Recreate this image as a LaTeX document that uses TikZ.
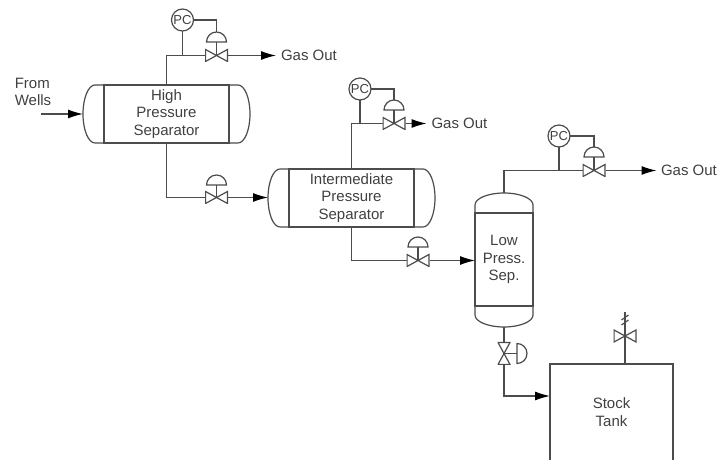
\documentclass[tikz,border=0pt]{standalone}
\usepackage{xcolor}
\usepackage{fontspec}
\setmainfont{Liberation Sans}
\usetikzlibrary{shapes.geometric, arrows.meta, positioning, calc}

\begin{document}
\begin{tikzpicture}[
  x=1pt, y=1pt,
  every node/.style={font=\fontsize{15}{17.5}\selectfont, text=black!75, inner sep=0pt, outer sep=0pt},
  vessel/.style={draw=black!70, line width=1.2pt},
  pipe/.style={draw=black!70, line width=1.2pt},
  flow/.style={pipe, -{Latex[length=15pt, width=9pt, color=black]}},
  sep/.style={rectangle, vessel, minimum width=125pt, minimum height=58pt, align=center},
  vsep/.style={rectangle, vessel, minimum width=58pt, minimum height=93pt, align=center},
  tank/.style={rectangle, minimum width=123pt, minimum height=96pt, align=center},
  pc/.style={circle, vessel, minimum size=22pt, font=\fontsize{13}{13}\selectfont},
  dome/.style={semicircle, vessel, minimum size=10pt},
  valve/.style={rectangle, minimum width=23pt, minimum height=13pt, path picture={
    \draw[pipe] (path picture bounding box.center) -- +(-11,6) -- +(-11,-6) -- cycle
      (path picture bounding box.center) -- +(11,6) -- +(11,-6) -- cycle;}},
  vvalve/.style={rectangle, minimum width=13pt, minimum height=23pt, path picture={
    \draw[pipe] (path picture bounding box.center) -- +(-6,11) -- +(6,11) -- cycle
      (path picture bounding box.center) -- +(-6,-11) -- +(6,-11) -- cycle;}},
  lbl/.style={align=left}
]
\useasboundingbox (0,0) rectangle (717,460);

% vessels
\node[sep] (hpsep) at (166.5,346) {High\\Pressure\\Separator};
\node[sep] (ipsep) at (351.5,262) {Intermediate\\Pressure\\Separator};
\node[vsep] (lpsep) at (504,200.5) {Low\\Press.\\Sep.};
\node[tank] (stock) at (611.5,48) {Stock\\Tank};

\draw[vessel] (hpsep.north west) -- ++(-9,0) arc[start angle=90, end angle=270, x radius=12pt, y radius=29pt] -- (hpsep.south west);
\draw[vessel] (hpsep.north east) -- ++(9,0) arc[start angle=90, end angle=-90, x radius=12pt, y radius=29pt] -- (hpsep.south east);
\draw[vessel] (ipsep.north west) -- ++(-9,0) arc[start angle=90, end angle=270, x radius=12pt, y radius=29pt] -- (ipsep.south west);
\draw[vessel] (ipsep.north east) -- ++(9,0) arc[start angle=90, end angle=-90, x radius=12pt, y radius=29pt] -- (ipsep.south east);
\draw[vessel] (lpsep.north west) -- ++(0,8) arc[start angle=180, end angle=0, x radius=29pt, y radius=12pt] -- (lpsep.north east);
\draw[vessel] (lpsep.south west) -- ++(0,-9) arc[start angle=180, end angle=360, x radius=29pt, y radius=12pt] -- (lpsep.south east);
\draw[vessel] (stock.south west) -- (stock.north west) -- (stock.north east) -- (stock.south east);

% valves
\node[valve, above=23pt of hpsep.north, xshift=50pt] (hpgas) {};
\node[valve, below=48pt of hpsep.south, xshift=50pt] (hplow) {};
\node[valve, above=39pt of ipsep.north, xshift=42.5pt] (ipgas) {};
\node[valve, below=27pt of ipsep.south, xshift=66.5pt] (iplow) {};
\node[valve, above=36pt of lpsep.north, xshift=90pt] (lpgas) {};
\node[vvalve, below=36pt of lpsep.south] (lplow) {};
\node[valve] (vent) at (625,124) {};

\node[dome, above=7pt of hpgas] (hpgasdome) {};
\node[dome, above=6pt of hplow] (hplowdome) {};
\node[dome, above=7pt of ipgas] (ipgasdome) {};
\node[dome, above=7pt of iplow] (iplowdome) {};
\node[dome, above=7pt of lpgas] (lpgasdome) {};
\node[dome, shape border rotate=270, anchor=chord center] (lplowdome) at ($(lplow.center)+(13,0)$) {};

\node[pc, above=18pt of hpgas, xshift=-34pt] (hppc) {PC};
\node[pc, above=17pt of ipgas, xshift=-34pt] (ippc) {PC};
\node[pc, above=17pt of lpgas, xshift=-35pt] (lppc) {PC};

% labels
\node[lbl] (wells) at (33,368) {From\\Wells};
\node[right=48pt of hpgas] (hpout) {\hspace{5pt}Gas Out};
\node[right=21pt of ipgas] (ipout) {\hspace{5pt}Gas Out};
\node[right=51pt of lpgas] (lpout) {\hspace{4.5pt}Gas Out};

% free ends
\coordinate (wellsin) at (41,346);
\coordinate[left=21pt of hpsep.west] (hpin);
\coordinate[left=21pt of ipsep.west] (ipin);
\coordinate[above=20pt of lpsep.north] (lptop);
\coordinate[below=21pt of lpsep.south] (lpbot);
\coordinate[below=32pt of stock.north west] (stockin);
\coordinate (venttop) at (625,148);

% lines
\draw[flow] (wellsin) -- (hpin);
\draw[pipe] (hpsep.north) |- (hpgas.west);
\draw[flow] (hpgas.east) -- (hpout.west);
\draw[pipe] (hpsep.south) |- (hplow.west);
\draw[flow] (hplow.east) -- (hplow.east -| ipin);
\draw[pipe] (ipsep.north) |- (ipgas.west);
\draw[flow] (ipgas.east) -- (ipout.west);
\draw[pipe] (ipsep.south) |- (iplow.west);
\draw[flow] (iplow.east) -- (iplow.east -| lpsep.west);
\draw[pipe] (lptop) |- (lpgas.west);
\draw[flow] (lpgas.east) -- (lpout.west);
\draw[pipe] (lpbot) -- (lplow.north);
\draw[flow] (lplow.south) |- (stockin);

% control lines
\draw[pipe] (hppc.south) -- (hppc.south |- hpgas.center);
\draw[pipe] (hppc.east) -| (hpgasdome.north);
\draw[pipe] (hpgasdome.south) -- (hpgas.center);
\draw[pipe] (hplowdome.south) -- (hplow.center);
\draw[pipe] (ippc.south) -- (ippc.south |- ipgas.center);
\draw[pipe] (ippc.east) -| (ipgasdome.north);
\draw[pipe] (ipgasdome.south) -- (ipgas.center);
\draw[pipe] (iplowdome.south) -- (iplow.center);
\draw[pipe] (lppc.south) -- (lppc.south |- lpgas.center);
\draw[pipe] (lppc.east) -| (lpgasdome.north);
\draw[pipe] (lpgasdome.south) -- (lpgas.center);
\draw[pipe] (lplowdome.chord center) -- (lplow.center);
\draw[pipe] (venttop) -- (venttop |- stock.north);
\draw[pipe] ($(venttop)+(-3.5,-8)$) -- ($(venttop)+(3.5,-3)$);
\draw[pipe] ($(venttop)+(-3.5,-13)$) -- ($(venttop)+(3.5,-8)$);

\end{tikzpicture}
\end{document}
